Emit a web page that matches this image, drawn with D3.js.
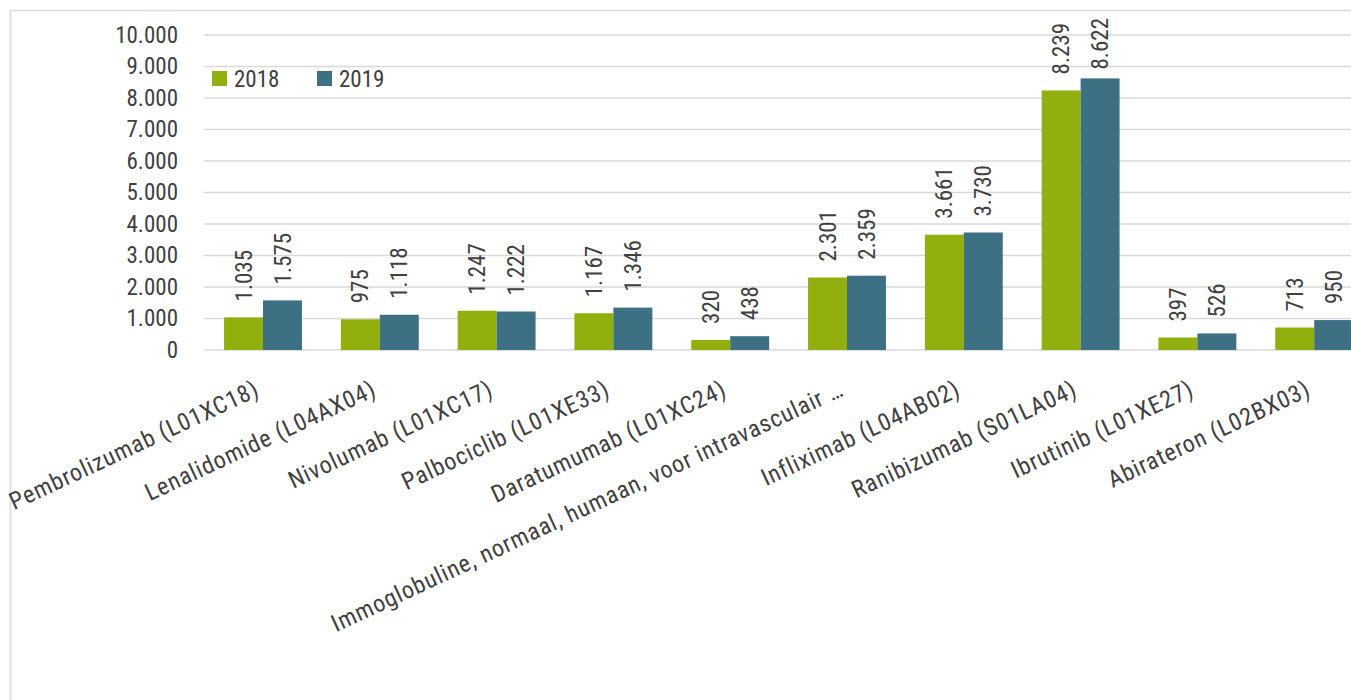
<!DOCTYPE html>
<html>
<head>
<meta charset="utf-8">
<script src="https://cdn.jsdelivr.net/npm/d3@7"></script>
<style>
  body { margin: 0; background: #fff; }
  text { font-family: "Liberation Sans Narrow", "Roboto Condensed", "DejaVu Sans Condensed", sans-serif; fill: #404040; }
</style>
</head>
<body>
<div id="chart"></div>
<script>
var categories = [
    "Pembrolizumab (L01XC18)",
    "Lenalidomide (L04AX04)",
    "Nivolumab (L01XC17)",
    "Palbociclib (L01XE33)",
    "Daratumumab (L01XC24)",
    "Immoglobuline, normaal, humaan, voor intravasculair \u2026",
    "Infliximab (L04AB02)",
    "Ranibizumab (S01LA04)",
    "Ibrutinib (L01XE27)",
    "Abirateron (L02BX03)"
];
var series = ["2018", "2019"];
var values2018 = [1035, 975, 1247, 1167, 320, 2301, 3661, 8239, 397, 713];
var values2019 = [1575, 1118, 1222, 1346, 438, 2359, 3730, 8622, 526, 950];
var yTicks = [0, 1000, 2000, 3000, 4000, 5000, 6000, 7000, 8000, 9000, 10000];
var colors = ["#92b00d", "#3c7082"];

var width = 1351, height = 700;
var fontSize = "23px";
var fmt = d3.formatLocale({decimal: ",", thousands: ".", grouping: [3], currency: ["€", ""]}).format(",d");

var svg = d3.select("#chart").append("svg")
    .attr("width", width)
    .attr("height", height);

// chart border
svg.append("rect")
    .attr("x", 10.5).attr("y", 10.5)
    .attr("width", 1400).attr("height", 800)
    .attr("fill", "none")
    .attr("stroke", "#d9d9d9")
    .attr("stroke-width", 1.5);

var data = categories.map(function(c, i) {
    return {name: c, values: [values2018[i], values2019[i]]};
});

// scales
var x = d3.scaleBand()
    .domain(categories)
    .range([204.6, 1372.6])
    .paddingInner(0.333)
    .paddingOuter(0.1665);

var xSub = d3.scaleBand()
    .domain(series)
    .range([0, x.bandwidth()]);

var y = d3.scaleLinear()
    .domain([0, 10000])
    .range([350, 35]);

// gridlines
svg.append("g")
    .selectAll("line")
    .data(yTicks)
    .enter().append("line")
    .attr("x1", 204).attr("x2", 1400)
    .attr("y1", function(d) { return y(d); })
    .attr("y2", function(d) { return y(d); })
    .attr("stroke", "#d9d9d9")
    .attr("stroke-width", 1.5);

// Y axis labels
var yAxis = svg.append("g")
    .attr("transform", "translate(178,0)")
    .call(d3.axisLeft(y).tickValues(yTicks).tickFormat(fmt).tickSize(0).tickPadding(0));
yAxis.select(".domain").remove();
yAxis.selectAll("text")
    .style("font-size", fontSize)
    .attr("fill", "#404040");

// bars
var groups = svg.selectAll(".grp")
    .data(data)
    .enter().append("g")
    .attr("class", "grp")
    .attr("transform", function(d) { return "translate(" + x(d.name) + ",0)"; });

groups.selectAll("rect")
    .data(function(d) { return d.values.map(function(v, i) { return {s: series[i], v: v, i: i}; }); })
    .enter().append("rect")
    .attr("x", function(d) { return xSub(d.s); })
    .attr("y", function(d) { return y(d.v); })
    .attr("width", xSub.bandwidth())
    .attr("height", function(d) { return y(0) - y(d.v); })
    .attr("fill", function(d) { return colors[d.i]; });

// value labels (kept inside the chart area at the top)
groups.selectAll(".val")
    .data(function(d) { return d.values.map(function(v, i) { return {s: series[i], v: v}; }); })
    .enter().append("text")
    .attr("class", "val")
    .attr("dy", "0.35em")
    .style("font-size", fontSize)
    .text(function(d) { return fmt(d.v); })
    .attr("transform", function(d) {
        var len = this.getComputedTextLength();
        var base = Math.max(y(d.v) - 16, 18 + len);
        return "translate(" + (xSub(d.s) + xSub.bandwidth() / 2) + "," + base + ")rotate(-90)";
    });

// category labels
svg.append("g")
    .selectAll("text")
    .data(categories)
    .enter().append("text")
    .attr("transform", function(d) {
        return "translate(" + (x(d) + x.bandwidth() / 2 - 2) + ",395)rotate(-25)";
    })
    .attr("text-anchor", "end")
    .style("font-size", "24px")
    .style("letter-spacing", "0.8px")
    .text(function(d) { return d; });

// legend
var legend = svg.append("g")
    .selectAll("g")
    .data(series)
    .enter().append("g")
    .attr("transform", function(d, i) { return "translate(" + (212 + i * 105) + ",71)"; });
legend.append("rect")
    .attr("width", 15).attr("height", 15)
    .attr("fill", function(d, i) { return colors[i]; });
legend.append("text")
    .attr("x", 22).attr("y", 7.5)
    .attr("dy", "0.35em")
    .style("font-size", fontSize)
    .text(function(d) { return d; });
</script>
</body>
</html>
